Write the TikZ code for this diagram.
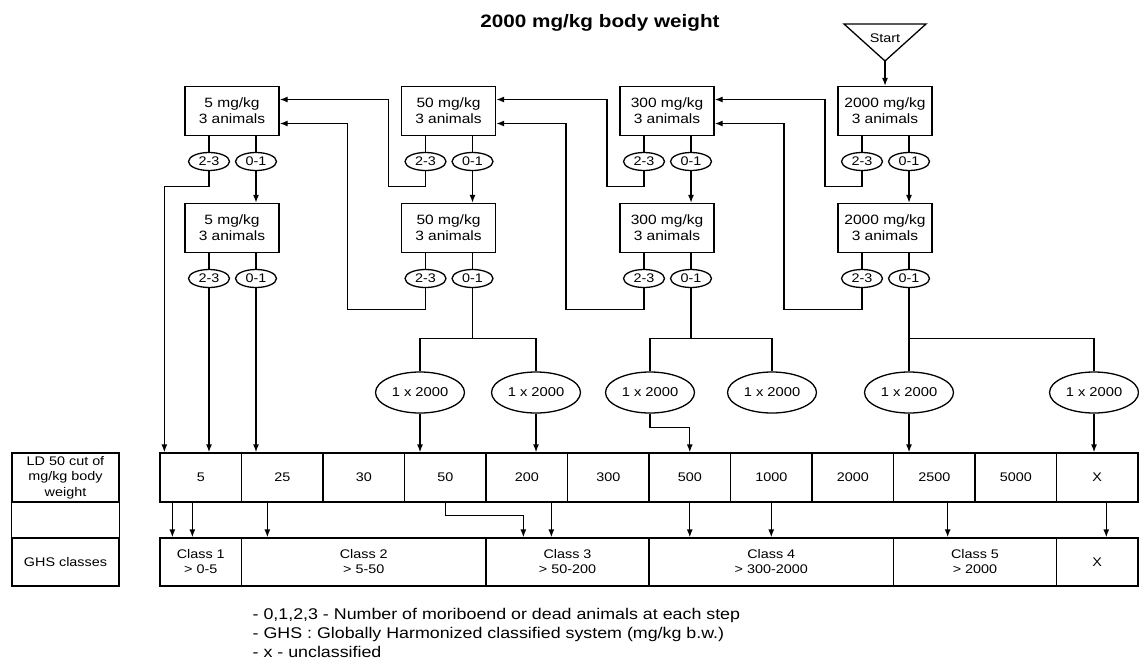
\documentclass[tikz,border=0pt]{standalone}
\usepackage{fontspec}
\setmainfont{Liberation Sans}[FakeStretch=1.15]
\usetikzlibrary{shapes.geometric,arrows.meta}

\tikzstyle{dose}=[rectangle,minimum width=94pt,minimum height=49pt,inner sep=0pt,text centered,align=center,draw=black,font=\fontsize{13.5}{16}\selectfont]
\tikzstyle{score}=[ellipse,minimum width=41pt,minimum height=18pt,inner sep=0pt,draw=black,font=\fontsize{12.5}{14}\selectfont]
\tikzstyle{trial}=[ellipse,minimum width=89pt,minimum height=41pt,inner sep=0pt,draw=black,font=\fontsize{12.8}{15}\selectfont]
\tikzstyle{cell}=[rectangle,minimum width=81.5pt,minimum height=49pt,inner sep=0pt,align=center,draw=black,font=\fontsize{12.5}{15}\selectfont]
\tikzstyle{ghsclass}=[cell,minimum height=48pt]
\tikzstyle{note}=[anchor=base west,inner sep=0pt,font=\fontsize{15.5}{19}\selectfont]

\begin{document}
\begin{tikzpicture}[x=1pt,y=-1pt,line width=1.3pt,>={Latex[length=8pt,width=6pt]},node distance=81.5pt]
\useasboundingbox(0,0)rectangle(1139,658);
\node(title)[font=\fontsize{18}{21}\selectfont\bfseries] at (600,23){2000 mg/kg body weight};
% start
\draw(844,24)--(926,24)--(885,61)--cycle;
\node(start)[font=\fontsize{12.5}{14}\selectfont] at (885,38){Start};
\coordinate(apex) at (885,61);
% first step
\node(b5a)[dose] at (232,111){5 mg/kg\\3 animals};
\node(b50a)[dose] at (448.5,111){50 mg/kg\\3 animals};
\node(b300a)[dose] at (667,111){300 mg/kg\\3 animals};
\node(b2000a)[dose] at (885,111){2000 mg/kg\\3 animals};
\node(b5a23)[score,node distance=50.5pt,below of=b5a,xshift=-23pt]{2-3};
\node(b5a01)[score,node distance=50.5pt,below of=b5a,xshift=24pt]{0-1};
\node(b50a23)[score,node distance=50.5pt,below of=b50a,xshift=-23pt]{2-3};
\node(b50a01)[score,node distance=50.5pt,below of=b50a,xshift=24pt]{0-1};
\node(b300a23)[score,node distance=50.5pt,below of=b300a,xshift=-23pt]{2-3};
\node(b300a01)[score,node distance=50.5pt,below of=b300a,xshift=24pt]{0-1};
\node(b2000a23)[score,node distance=50.5pt,below of=b2000a,xshift=-23pt]{2-3};
\node(b2000a01)[score,node distance=50.5pt,below of=b2000a,xshift=24pt]{0-1};
% second step
\node(b5b)[dose,node distance=117pt,below of=b5a]{5 mg/kg\\3 animals};
\node(b50b)[dose,node distance=117pt,below of=b50a]{50 mg/kg\\3 animals};
\node(b300b)[dose,node distance=117pt,below of=b300a]{300 mg/kg\\3 animals};
\node(b2000b)[dose,node distance=117pt,below of=b2000a]{2000 mg/kg\\3 animals};
\node(b5b23)[score,node distance=50.5pt,below of=b5b,xshift=-23pt]{2-3};
\node(b5b01)[score,node distance=50.5pt,below of=b5b,xshift=24pt]{0-1};
\node(b50b23)[score,node distance=50.5pt,below of=b50b,xshift=-23pt]{2-3};
\node(b50b01)[score,node distance=50.5pt,below of=b50b,xshift=24pt]{0-1};
\node(b300b23)[score,node distance=50.5pt,below of=b300b,xshift=-23pt]{2-3};
\node(b300b01)[score,node distance=50.5pt,below of=b300b,xshift=24pt]{0-1};
\node(b2000b23)[score,node distance=50.5pt,below of=b2000b,xshift=-23pt]{2-3};
\node(b2000b01)[score,node distance=50.5pt,below of=b2000b,xshift=24pt]{0-1};
% 1 x 2000
\node(t50a)[trial] at (420,392.5){1 x 2000};
\node(t50b)[trial] at (536,392.5){1 x 2000};
\node(t300a)[trial] at (650,392.5){1 x 2000};
\node(t300b)[trial] at (772,392.5){1 x 2000};
\node(t2000a)[trial] at (909,392.5){1 x 2000};
\node(t2000b)[trial] at (1094,392.5){1 x 2000};
% table
\node(ld)[cell,minimum width=107pt,font=\fontsize{12.5}{15.5}\selectfont] at (65.5,477.5){LD 50 cut of\\mg/kg body\\weight};
\node(ghs)[cell,minimum width=107pt,minimum height=48pt] at (65.5,562){GHS classes};
\node(c1)[cell] at (200.75,477.5){5};
\node(c2)[cell,right of=c1]{25};
\node(c3)[cell,right of=c2]{30};
\node(c4)[cell,right of=c3]{50};
\node(c5)[cell,right of=c4]{200};
\node(c6)[cell,right of=c5]{300};
\node(c7)[cell,right of=c6]{500};
\node(c8)[cell,right of=c7]{1000};
\node(c9)[cell,right of=c8]{2000};
\node(c10)[cell,right of=c9]{2500};
\node(c11)[cell,right of=c10]{5000};
\node(c12)[cell,right of=c11]{X};
\node(k1)[ghsclass] at (200.75,562){Class 1\\> 0-5};
\node(k2)[ghsclass,minimum width=244.5pt] at (363.75,562){Class 2\\> 5-50};
\node(k3)[ghsclass,minimum width=163pt] at (567.5,562){Class 3\\> 50-200};
\node(k4)[ghsclass,minimum width=244.5pt] at (771.25,562){Class 4\\> 300-2000};
\node(k5)[ghsclass,minimum width=163pt] at (975,562){Class 5\\> 2000};
\node(kx)[ghsclass] at (1097.25,562){X};
\draw(ld.south west)--(ghs.north west);
\draw(ld.south east)--(ghs.north east);
% legend
\node(noteA)[note] at (252,619.5){- 0,1,2,3 - Number of moriboend or dead animals at each step};
\node(noteB)[note] at (252,638.5){- GHS : Globally Harmonized classified system (mg/kg b.w.)};
\node(noteC)[note] at (252,657){- x - unclassified};
% connectors
\draw[->](apex)--(b2000a.north);
\draw(b5a.south -| b5a23)--(b5a23);
\draw(b5a.south -| b5a01)--(b5a01);
\draw(b50a.south -| b50a23)--(b50a23);
\draw(b50a.south -| b50a01)--(b50a01);
\draw(b300a.south -| b300a23)--(b300a23);
\draw(b300a.south -| b300a01)--(b300a01);
\draw(b2000a.south -| b2000a23)--(b2000a23);
\draw(b2000a.south -| b2000a01)--(b2000a01);
\draw[->](b5a01)--(b5a01 |- b5b.north);
\draw[->](b50a01)--(b50a01 |- b50b.north);
\draw[->](b300a01)--(b300a01 |- b300b.north);
\draw[->](b2000a01)--(b2000a01 |- b2000b.north);
\draw(b5b.south -| b5b23)--(b5b23);
\draw(b5b.south -| b5b01)--(b5b01);
\draw(b50b.south -| b50b23)--(b50b23);
\draw(b50b.south -| b50b01)--(b50b01);
\draw(b300b.south -| b300b23)--(b300b23);
\draw(b300b.south -| b300b01)--(b300b01);
\draw(b2000b.south -| b2000b23)--(b2000b23);
\draw(b2000b.south -| b2000b01)--(b2000b01);
% back to the lower dose
\draw[->](b50a23.south)--++(0,15)--++(-37,0)|-([yshift=11.5pt]b5a.east);
\draw[->](b300a23.south)--++(0,15)--++(-37,0)|-([yshift=11.5pt]b50a.east);
\draw[->](b2000a23.south)--++(0,15)--++(-37,0)|-([yshift=11.5pt]b300a.east);
\draw[->](b50b23.south)--++(0,21)--++(-78,0)|-([yshift=-12.5pt]b5a.east);
\draw[->](b300b23.south)--++(0,21)--++(-78,0)|-([yshift=-12.5pt]b50a.east);
\draw[->](b2000b23.south)--++(0,21)--++(-78,0)|-([yshift=-12.5pt]b300a.east);
% to the table
\draw[->](b5a23.south)--++(0,15)-|([xshift=5pt]c1.north west);
\draw[->](b5b23)--(b5b23 |- c1.north);
\draw[->](b5b01)--(b5b01 |- c2.north);
\draw(b50b01.south)--++(0,50.5)coordinate(j50);
\draw(t50a)|-(j50)-|(t50b);
\draw(b300b01.south)--++(0,50.5)coordinate(j300);
\draw(t300a)|-(j300)-|(t300b);
\draw(b2000b01.south)--++(0,50.5)coordinate(j2000);
\draw(t2000a)|-(j2000)-|(t2000b);
\draw[->](t50a)--(t50a |- c4.north);
\draw[->](t50b)--(t50b |- c5.north);
\draw[->](t300a.south)--++(0,14)-|(c7.north);
\draw[->](t2000a)--(t2000a |- c10.north);
\draw[->](t2000b)--(t2000b |- c12.north);
% cut-off to class
\draw[->]([xshift=13pt]c1.south west)--([xshift=13pt]k1.north west);
\draw[->]([xshift=33pt]c1.south west)--([xshift=33pt]k1.north west);
\draw[->]([xshift=26.5pt]c2.south west)--([xshift=26.5pt]k2.north west);
\draw[->](c4.south)--++(0,13)-|([xshift=38pt]k3.north west);
\draw[->]([xshift=66pt]c5.south west)--([xshift=66pt]k3.north west);
\draw[->](c7.south)--(c7.south |- k4.north);
\draw[->](c8.south)--(c8.south |- k4.north);
\draw[->]([xshift=-28pt]c10.south east)--([xshift=-28pt]c10.south east |- k5.north);
\draw[->]([xshift=9pt]c12.south)--([xshift=9pt]c12.south |- kx.north);
\end{tikzpicture}
\end{document}
